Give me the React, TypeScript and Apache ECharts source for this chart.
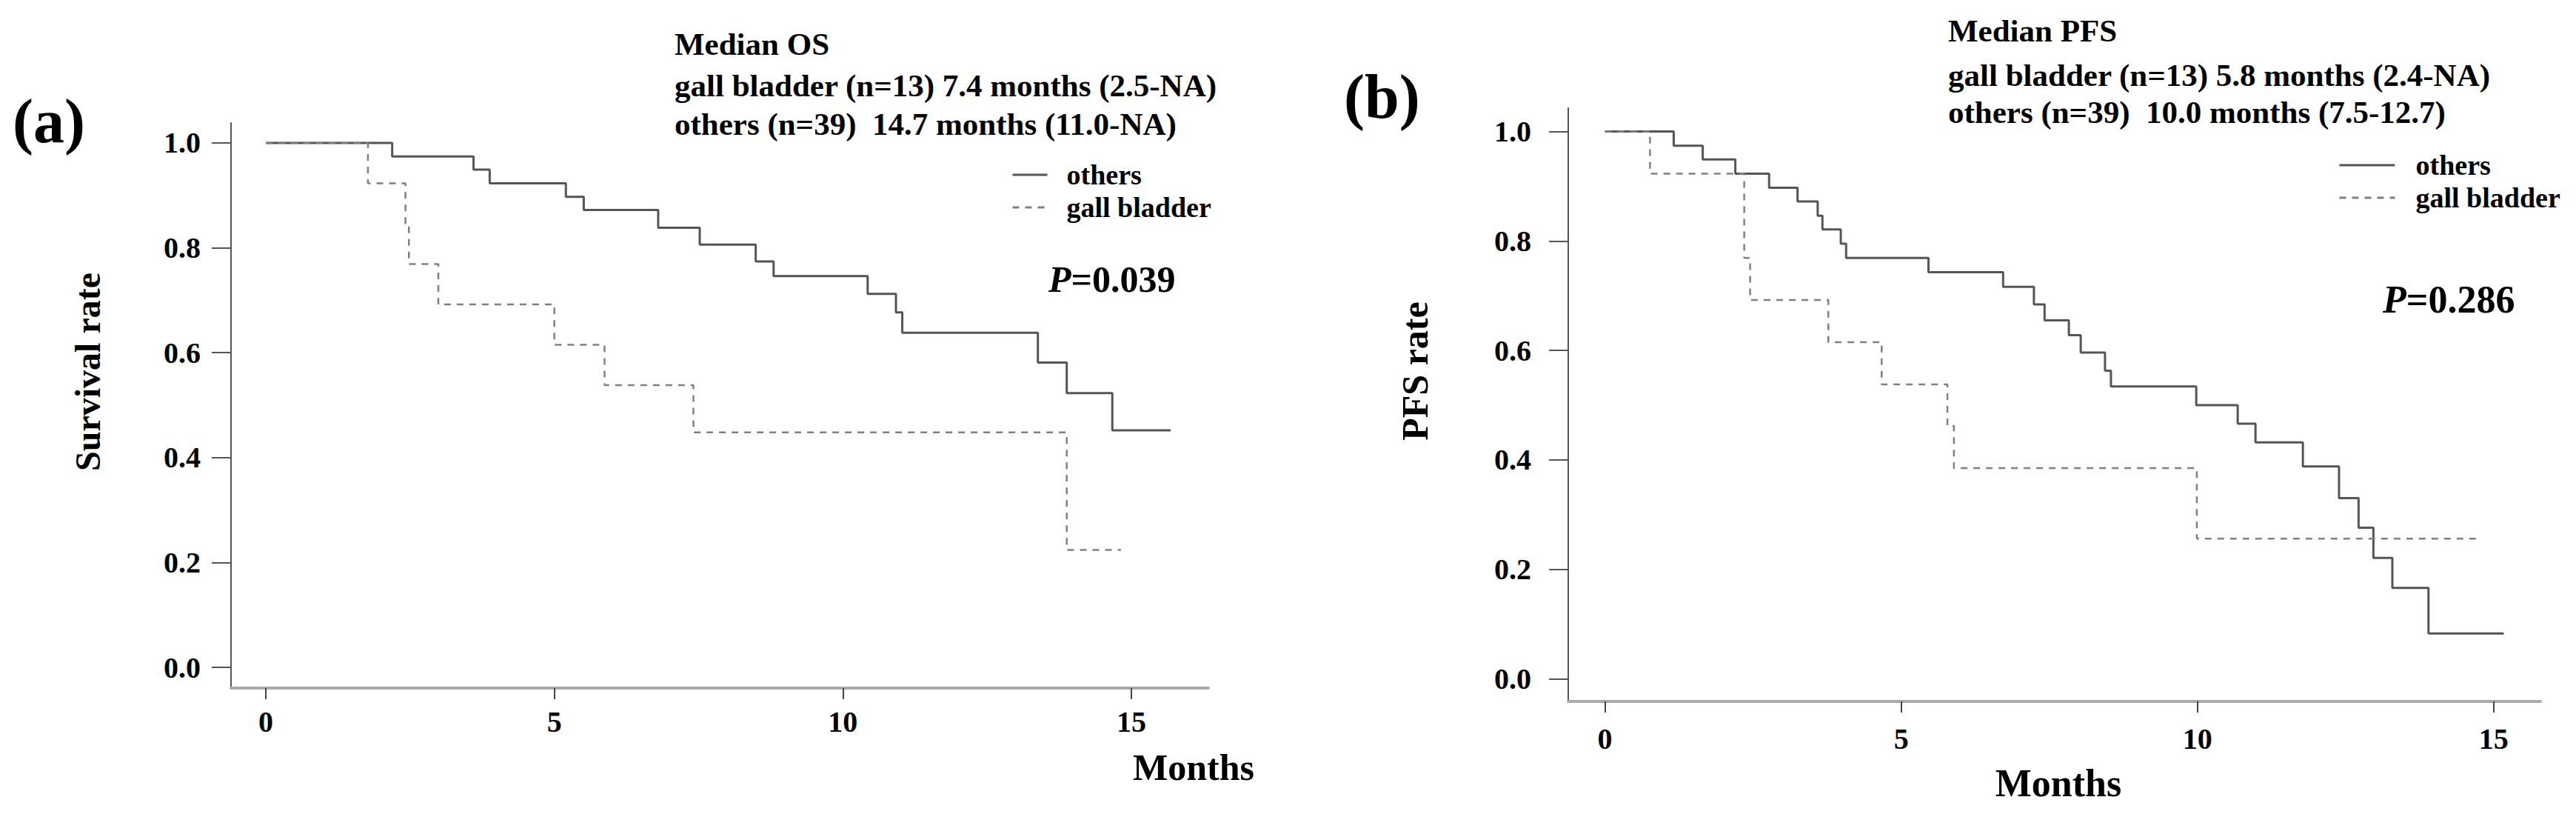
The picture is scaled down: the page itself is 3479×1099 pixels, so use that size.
import React, { useEffect, useRef } from "react";
import * as echarts from "echarts";

const FONT = '"Liberation Serif", "Times New Roman", Times, serif';

// Tick values
const monthTicks = [0, 5, 10, 15];
const rateTicks = [0, 0.2, 0.4, 0.6, 0.8, 1.0];

// (a) Overall survival
const osOthersMonths = [0, 2.19, 3.6, 3.88, 5.2, 5.51, 6.8, 7.52, 8.49, 8.8, 10.43, 10.92, 11.03, 13.38, 13.88, 14.67, 15.68];
const osOthersRate = [1.0, 0.974, 0.949, 0.923, 0.897, 0.872, 0.838, 0.806, 0.774, 0.746, 0.712, 0.677, 0.638, 0.581, 0.523, 0.452, 0.452];
const osGallMonths = [0, 1.77, 2.42, 2.48, 2.99, 5.0, 5.87, 7.41, 13.88, 14.82];
const osGallRate = [1.0, 0.923, 0.846, 0.769, 0.692, 0.615, 0.538, 0.448, 0.224, 0.224];

// (b) Progression-free survival
const pfsOthersMonths = [0, 1.16, 1.65, 2.2, 2.77, 3.25, 3.59, 3.67, 3.98, 4.07, 5.46, 6.72, 7.24, 7.42, 7.83, 8.03, 8.44, 8.54, 9.98, 10.68, 10.98, 11.78, 12.39, 12.72, 12.97, 13.29, 13.9, 15.17];
const pfsOthersRate = [1.0, 0.974, 0.949, 0.923, 0.897, 0.872, 0.846, 0.821, 0.795, 0.769, 0.743, 0.716, 0.684, 0.655, 0.628, 0.596, 0.563, 0.534, 0.5, 0.466, 0.432, 0.388, 0.33, 0.276, 0.221, 0.166, 0.083, 0.083];
const pfsGallMonths = [0, 0.76, 2.35, 2.45, 3.77, 4.67, 5.78, 5.89, 9.99, 14.76];
const pfsGallRate = [1.0, 0.923, 0.769, 0.692, 0.615, 0.538, 0.462, 0.385, 0.256, 0.256];

const groupNames = ["others", "gall bladder"];
const osTextLines = ["Median OS", "gall bladder (n=13) 7.4 months (2.5-NA)", "others (n=39)  14.7 months (11.0-NA)"];
const pfsTextLines = ["Median PFS", "gall bladder (n=13) 5.8 months (2.4-NA)", "others (n=39)  10.0 months (7.5-12.7)"];
const panelLabels = ["(a)", "(b)"];
const pValues = ["0.039", "0.286"];
const yTitles = ["Survival rate", "PFS rate"];
const xTitle = "Months";

const zip = (m: number[], r: number[]) => m.map((x, i) => [x, r[i]]);

function txt(text: string, x: number, y: number, size: number, align = "left", extra: any = {}) {
  return {
    type: "text",
    x,
    y,
    ...extra,
    style: {
      text,
      font: `bold ${size}px ${FONT}`,
      fill: "#000",
      align,
      verticalAlign: "middle",
      textAlign: align,
      textVerticalAlign: "middle",
      ...(extra.style || {}),
    },
  };
}

function mkX(gridIndex: number, min: number, max: number, margin: number) {
  return {
    type: "value",
    gridIndex,
    min,
    max,
    splitLine: { show: false },
    axisLine: { show: true, onZero: false, lineStyle: { color: "#aaaaaa", width: 4 } },
    axisTick: { show: true, length: 15, customValues: monthTicks, lineStyle: { color: "#444", width: 2 } },
    axisLabel: {
      customValues: monthTicks,
      margin,
      fontFamily: FONT,
      fontSize: 40,
      fontWeight: "bold",
      color: "#000",
    },
  };
}

function mkY(gridIndex: number, min: number, max: number, margin: number) {
  return {
    type: "value",
    gridIndex,
    min,
    max,
    splitLine: { show: false },
    axisLine: { show: true, onZero: false, lineStyle: { color: "#555", width: 2 } },
    axisTick: { show: true, length: 26, customValues: rateTicks, lineStyle: { color: "#555", width: 2 } },
    axisLabel: {
      customValues: rateTicks,
      margin,
      fontFamily: FONT,
      fontSize: 40,
      fontWeight: "bold",
      color: "#000",
      formatter: (v: number) => v.toFixed(1),
    },
  };
}

const solidStyle = { color: "#555", width: 3, type: "solid" };
const dashStyle = { color: "#808080", width: 2.5, type: [9, 8] };

function mkSeries(name: string, idx: number, data: number[][], dashed: boolean) {
  return {
    type: "line",
    name,
    xAxisIndex: idx,
    yAxisIndex: idx,
    data,
    step: "end",
    symbol: "none",
    lineStyle: dashed ? dashStyle : solidStyle,
    itemStyle: { color: dashed ? "#808080" : "#555" },
    emphasis: { disabled: true },
  };
}

function mkLegend(left: number, top: number, itemWidth: number, gapToText: number) {
  return {
    data: groupNames,
    orient: "vertical",
    left,
    top,
    itemWidth,
    itemHeight: 14,
    itemGap: 4,
    selectedMode: false,
    itemStyle: { opacity: 0, borderWidth: 0 },
    lineStyle: { width: 3 },
    formatter: "{t|{name}}",
    textStyle: {
      fontFamily: FONT,
      fontSize: 38,
      fontWeight: "bold",
      color: "#000",
      lineHeight: 40,
      rich: {
        t: {
          fontFamily: FONT,
          fontSize: 38,
          fontWeight: "bold",
          color: "#000",
          lineHeight: 40,
          padding: [0, 0, 0, gapToText],
        },
      },
    },
  };
}

export default function App() {
  const ref = useRef<HTMLDivElement>(null);
  useEffect(() => {
    if (!ref.current) return;
    const chart = echarts.init(ref.current, null, { renderer: "svg" });
    const option: any = {
      animation: false,
      backgroundColor: "#fff",
      grid: [
        { left: 312, top: 166, width: 1320, height: 763 },
        { left: 2118, top: 146, width: 1313, height: 801 },
      ],
      xAxis: [mkX(0, -0.603, 16.335, 25), mkX(1, -0.62, 15.79, 30)],
      yAxis: [mkY(0, -0.0395, 1.038, 41), mkY(1, -0.0413, 1.0426, 50)],
      legend: [mkLegend(1361, 211, 47, 21), mkLegend(3153, 198, 75, 23)],
      series: [
        mkSeries(groupNames[0], 0, zip(osOthersMonths, osOthersRate), false),
        mkSeries(groupNames[1], 0, zip(osGallMonths, osGallRate), true),
        mkSeries(groupNames[0], 1, zip(pfsOthersMonths, pfsOthersRate), false),
        mkSeries(groupNames[1], 1, zip(pfsGallMonths, pfsGallRate), true),
      ],
      graphic: [
        txt(panelLabels[0], 17, 163, 84),
        txt(panelLabels[1], 1815, 130, 84),
        txt(osTextLines[0], 911, 59.5, 43),
        txt(osTextLines[1], 911, 115.5, 43),
        txt(osTextLines[2], 911, 167.5, 43),
        txt(pfsTextLines[0], 2631, 41.5, 43),
        txt(pfsTextLines[1], 2631, 101.5, 43),
        txt(pfsTextLines[2], 2631, 151.5, 43),
        txt(`{i|P}=${pValues[0]}`, 1416, 377, 50, "left", {
          style: { rich: { i: { fontStyle: "italic", fontWeight: "bold", fontSize: 50, fontFamily: FONT } } },
        }),
        txt(`{i|P}=${pValues[1]}`, 3218, 404, 52, "left", {
          style: { rich: { i: { fontStyle: "italic", fontWeight: "bold", fontSize: 52, fontFamily: FONT } } },
        }),
        txt(yTitles[0], 118, 502, 48, "center", { rotation: Math.PI / 2 }),
        txt(yTitles[1], 1911, 501, 50, "center", { rotation: Math.PI / 2 }),
        txt(xTitle, 1694, 1036, 50, "right"),
        txt(xTitle, 2780, 1057, 52, "center"),
      ],
    };
    chart.setOption(option);
    return () => chart.dispose();
  }, []);
  return (
    <div
      ref={ref}
      style={{ position: "fixed", left: 0, top: 0, width: 3479, height: 1099, background: "#fff" }}
    />
  );
}
